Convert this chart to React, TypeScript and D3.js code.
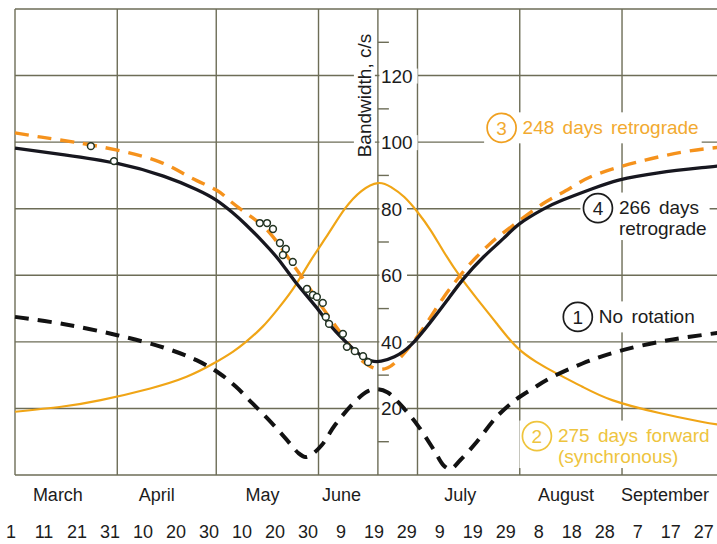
import React, { useEffect, useRef } from "react";
import * as d3 from "d3";

const W = 717;
const H = 544;

// x values are days counted from March 1
const monthStartDays = [0, 31, 61, 92, 122, 153, 184, 214];
const monthNames = ["March", "April", "May", "June", "July", "August", "September"];
const monthLabelDays = [13, 43, 75, 99, 135, 167, 197];
const dayTickDays = [0, 10, 20, 30, 40, 50, 60, 70, 80, 90, 100, 110, 120, 130, 140, 150, 160, 170, 180, 190, 200, 210];
const dayTickLabels = ["1", "11", "21", "31", "10", "20", "30", "10", "20", "30", "9", "19", "29", "9", "19", "29", "8", "18", "28", "7", "17", "27"];
const yGridValues = [0, 20, 40, 60, 80, 100, 120, 140];
const yMajorTicks = [20, 40, 60, 80, 100, 120];
const yMinorTicks = [10, 30, 50, 70, 90, 110, 130];
const axisDay = 110;

// (1) No rotation — black dashed
const noRotation: [number, number][] = [
  [0, 47.5], [15, 45.3], [31, 42], [45, 38.3], [55, 34.5], [62, 30.5], [67, 26.5], [72, 21.5],
  [77, 16.5], [82, 11], [86, 6.5], [88, 5.4], [90, 6.2], [93, 9], [97, 15], [103, 22],
  [107, 25.2], [110, 25.8], [113, 24.8], [117, 21], [122, 15], [127, 7.5], [130, 2.8], [132, 1.8],
  [135, 4.5], [140, 10], [146, 17.5], [152, 22.8], [157, 26], [162, 29], [172, 33.5], [183, 37.2],
  [198, 40.5], [214, 42.8],
];

// (2) 275 days forward (synchronous) — orange solid
const forward275: [number, number][] = [
  [0, 19], [14, 20.5], [26, 22.5], [41, 26], [52, 29.5], [60, 33.4], [66, 37], [70, 40],
  [75, 44.5], [80, 50.3], [85, 57], [90, 65], [95, 72.5], [100, 80], [105, 85.3], [110, 87.7],
  [114, 86.5], [118, 83.5], [122, 79], [126, 73.5], [130, 67], [135, 59.5], [140, 53], [146, 45.5],
  [152, 38.5], [158, 34], [164, 30.6], [172, 26.5], [181, 22.5], [195, 18.7], [208, 16], [214, 15],
];

// (3) 248 days retrograde — orange dashed
const retro248: [number, number][] = [
  [0, 102.8], [8, 101.5], [18, 100], [31, 97.6], [44, 94], [53, 89.5], [61, 85.6], [65, 82.5],
  [71, 78], [77, 73], [83, 65], [88, 58], [92, 52], [97, 45], [101, 39.5], [104, 35.5],
  [107, 33], [110, 31.8], [113, 32.2], [116, 34.5], [120, 39], [125, 46], [130, 53.5], [135, 60],
  [138, 63.5], [144, 69.5], [151, 75], [160, 81.5], [168, 86], [176, 90.2], [191, 94.6], [204, 97.3],
  [214, 98.5],
];

// (4) 266 days retrograde — black solid
const retro266: [number, number][] = [
  [0, 98.2], [15, 96.2], [31, 93.6], [45, 89.8], [55, 85.8], [61, 82.6], [66, 78.8], [70, 75.2],
  [75, 70.2], [80, 64.6], [85, 58], [91, 50.8], [96, 44.5], [101, 39.3], [105, 35.8], [108, 34.3],
  [111, 34.2], [115, 35.5], [120, 39], [126, 46], [131, 52.5], [136, 59], [142, 65.5], [148, 71],
  [153, 75.5], [160, 79.8], [166, 82.6], [175, 86], [183, 88.6], [195, 90.8], [210, 92.5], [214, 93],
];

// observed bandwidths (open circles)
const observedDays = [23, 30, 74.2, 76.4, 78.2, 80.3, 82.1, 81.2, 84.2, 88.5, 90.3, 91.5, 93.3, 94.2, 95.2, 99.4, 100.6, 103, 105.5, 107];
const observedValues = [98.8, 94.3, 75.7, 75.7, 73.9, 69.7, 67.9, 66.1, 64, 55.9, 54.1, 53.5, 51.7, 47.5, 45.4, 42.4, 38.5, 37.2, 35.7, 33.9];

export default function App() {
  const ref = useRef<SVGSVGElement>(null);

  useEffect(() => {
    const svg = d3.select(ref.current);
    svg.selectAll("*").remove();
    const font = "'Liberation Sans', Arial, sans-serif";
    const x = d3.scaleLinear().domain([0, 214]).range([15, 721]);
    const y = d3.scaleLinear().domain([0, 140]).range([475, 9]);

    const gridColor = "#6d6d57";
    const gGrid = svg.append("g");
    const gBg = svg.append("g");
    const gCurves = svg.append("g");
    const gText = svg.append("g").attr("font-family", font);

    gGrid.selectAll("line.h").data(yGridValues).join("line").attr("class", "h")
      .attr("x1", x(0)).attr("x2", x(214))
      .attr("y1", (d) => y(d)).attr("y2", (d) => y(d))
      .attr("stroke", gridColor).attr("stroke-width", 1.4);
    gGrid.selectAll("line.v").data(monthStartDays).join("line").attr("class", "v")
      .attr("x1", (d) => x(d)).attr("x2", (d) => x(d))
      .attr("y1", y(0)).attr("y2", y(140))
      .attr("stroke", gridColor).attr("stroke-width", 1.4);

    // y axis
    const ax = x(axisDay);
    gGrid.append("line").attr("x1", ax).attr("x2", ax).attr("y1", y(0)).attr("y2", y(140))
      .attr("stroke", gridColor).attr("stroke-width", 1.4);
    gGrid.selectAll("line.mt").data(yMinorTicks).join("line").attr("class", "mt")
      .attr("x1", ax).attr("x2", ax + 11)
      .attr("y1", (d) => y(d)).attr("y2", (d) => y(d))
      .attr("stroke", gridColor).attr("stroke-width", 1.4);

    const bgFor = (nodes: SVGGraphicsElement[], pad: number[], transform: string | null = null, minX: number | null = null) => {
      let x0 = Infinity, y0 = Infinity, x1 = -Infinity, y1 = -Infinity;
      nodes.forEach((n) => {
        const b = n.getBBox();
        x0 = Math.min(x0, b.x); y0 = Math.min(y0, b.y);
        x1 = Math.max(x1, b.x + b.width); y1 = Math.max(y1, b.y + b.height);
      });
      let rx = x0 - pad[3];
      if (minX !== null) rx = minX;
      gBg.append("rect").attr("x", rx).attr("y", y0 - pad[0])
        .attr("width", x1 + pad[1] - rx).attr("height", y1 - y0 + pad[0] + pad[2])
        .attr("fill", "#fff").attr("transform", transform);
    };

    // y tick labels
    yMajorTicks.forEach((v) => {
      const t = gText.append("text").attr("x", ax + 3).attr("y", y(v) + 7)
        .attr("font-size", 19).attr("fill", "#1c1c1c").text(String(v));
      bgFor([t.node() as SVGGraphicsElement], [-3, 5, -3, 0], null, ax + 1.5);
    });

    // rotated axis title
    const titleT = `translate(${ax - 7},${y(114)}) rotate(-90)`;
    const title = gText.append("text").attr("transform", titleT).attr("text-anchor", "middle")
      .attr("font-size", 19).attr("fill", "#1c1c1c").text("Bandwidth, c/s");
    bgFor([title.node() as SVGGraphicsElement], [0, 2, 0, 2], titleT);

    // curves
    const smooth = d3.line<[number, number]>().x((d) => x(d[0])).y((d) => y(d[1]))
      .curve(d3.curveNatural);
    const sharp = d3.line<[number, number]>().x((d) => x(d[0])).y((d) => y(d[1]))
      .curve(d3.curveCatmullRom.alpha(0.5));
    gCurves.append("path").attr("d", smooth(forward275)).attr("fill", "none")
      .attr("stroke", "#f0a516").attr("stroke-width", 2.2);
    gCurves.append("path").attr("d", smooth(retro248)).attr("fill", "none")
      .attr("stroke", "#f5921c").attr("stroke-width", 3.4).attr("stroke-dasharray", "14 9");
    gCurves.append("path").attr("d", sharp(noRotation)).attr("fill", "none")
      .attr("stroke", "#121212").attr("stroke-width", 4).attr("stroke-dasharray", "14 9");
    gCurves.append("path").attr("d", smooth(retro266)).attr("fill", "none")
      .attr("stroke", "#17171f").attr("stroke-width", 3.3);
    gCurves.selectAll("circle.obs").data(observedDays).join("circle").attr("class", "obs")
      .attr("cx", (d) => x(d)).attr("cy", (_d, i) => y(observedValues[i]))
      .attr("r", 3.4).attr("fill", "#fff").attr("stroke", "#223322").attr("stroke-width", 1.5);

    // legends
    const legends = [
      { num: "3", lines: ["248 days retrograde"], cx: x(147.5), cy: y(104.3), color: "#f0a020", textColor: "#f2aa30" },
      { num: "4", lines: ["266 days", "retrograde"], cx: x(176.7), cy: y(80.2), color: "#1c1c1c", textColor: "#1c1c1c" },
      { num: "1", lines: ["No rotation"], cx: x(170.6), cy: y(47.5), color: "#1c1c1c", textColor: "#1c1c1c" },
      { num: "2", lines: ["275 days forward", "(synchronous)"], cx: x(158.2), cy: y(11.7), color: "#efc43c", textColor: "#eec43e" },
    ];
    legends.forEach((L) => {
      const g = gText.append("g");
      const nodes: SVGGraphicsElement[] = [];
      const tx = L.cx + 21;
      L.lines.forEach((s, i) => {
        const t = g.append("text").attr("x", tx).attr("y", L.cy + 6 + i * 21)
          .attr("font-size", 19).attr("word-spacing", 3)
          .attr("fill", L.textColor).text(s);
        nodes.push(t.node() as SVGGraphicsElement);
      });
      const c = g.append("circle").attr("cx", L.cx).attr("cy", L.cy).attr("r", 14.5)
        .attr("fill", "#fff").attr("stroke", L.color).attr("stroke-width", 1.7);
      g.append("text").attr("x", L.cx).attr("y", L.cy + 7).attr("text-anchor", "middle")
        .attr("font-size", 19).attr("fill", L.textColor).text(L.num);
      nodes.push(c.node() as SVGGraphicsElement);
      bgFor(nodes, [1, 3, 1, 3]);
    });

    // month labels
    gText.selectAll("text.month").data(monthNames).join("text").attr("class", "month")
      .attr("x", (_d, i) => x(monthLabelDays[i])).attr("y", 501)
      .attr("text-anchor", "middle").attr("font-size", 18).attr("fill", "#1c1c1c")
      .text((d) => d);
    gText.selectAll("text.day").data(dayTickLabels).join("text").attr("class", "day")
      .attr("x", (_d, i) => x(dayTickDays[i]) - 4).attr("y", 538)
      .attr("text-anchor", "middle").attr("font-size", 18).attr("fill", "#1c1c1c")
      .text((d) => d);
  }, []);

  return (
    <svg
      ref={ref}
      width={W}
      height={H}
      style={{ position: "absolute", left: 0, top: 0, background: "#fff" }}
    />
  );
}
